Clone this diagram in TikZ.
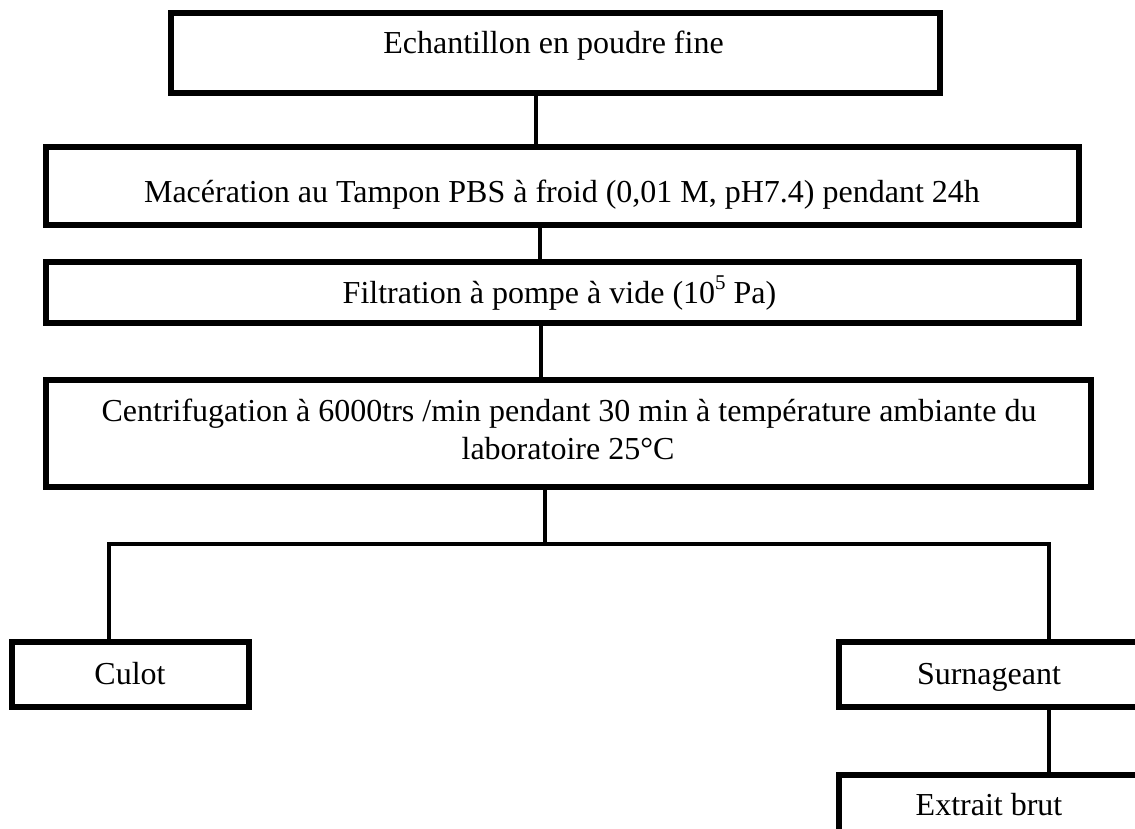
\documentclass[tikz,border=0pt]{standalone}
\usepackage{fontspec}
\setmainfont{Liberation Serif}
\begin{document}
\begin{tikzpicture}[x=1pt,y=-1pt,
  box/.style={draw, line width=5.3pt, line join=miter, inner sep=0pt},
  txt/.style={font=\fontsize{32}{38}\selectfont, inner sep=0pt, anchor=base, align=center},
  link/.style={line width=4.8pt, line join=miter}]
\useasboundingbox (0,0) rectangle (1135,828);
% boxes
\node[box, minimum width=769pt, minimum height=80pt] (b1) at (555.5,53) {};
\node[box, minimum width=1033pt, minimum height=78pt] (b2) at (562.5,186) {};
\node[box, minimum width=1033pt, minimum height=61pt] (b3) at (562.5,292.5) {};
\node[box, minimum width=1045pt, minimum height=107pt] (b4) at (568.5,433.5) {};
\node[box, minimum width=237pt, minimum height=65pt] (culot) at (130.5,674.5) {};
\node[box, minimum width=300pt, minimum height=65pt] (surn) at (989,674.5) {};
\node[box, minimum width=300pt, minimum height=66pt] (extr) at (989,808) {};
% texts
\node[txt] (t1) at (553.5,53) {Echantillon en poudre fine};
\node[txt] (t2) at (562,202) {Macération au Tampon PBS à froid (0,01 M, pH7.4) pendant 24h};
\node[txt] (t3) at (559.5,303) {Filtration à pompe à vide (10\raisebox{0.42em}{\fontsize{21}{21}\selectfont 5} Pa)};
\node[txt] (t4a) at (569,421) {Centrifugation à 6000trs /min pendant 30 min à température ambiante du};
\node[txt] (t4b) at (568,459) {laboratoire 25°C};
\node[txt] (t5) at (130,684) {Culot};
\node[txt] (t6) at (989,684) {Surnageant};
\node[txt] (t7) at (989,815) {Extrait brut};
% connectors
\coordinate (jn) at (545,544);
\coordinate (jl) at (109,544);
\coordinate (jr) at (1049,544);
\draw[link] ([xshift=-19.5pt]b1.south) -- ([xshift=-19.5pt]b1.south |- b2.north);
\draw[link] ([xshift=-22.5pt]b2.south) -- ([xshift=-22.5pt]b2.south |- b3.north);
\draw[link] ([xshift=-21.5pt]b3.south) -- ([xshift=-21.5pt]b3.south |- b4.north);
\draw[link] ([xshift=-23.5pt]b4.south) -- (jn);
\draw[link] (jl |- culot.north) -- (jl) -- (jr) -- (jr |- surn.north);
\draw[link] (jr |- surn.south) -- (jr |- extr.north);
\end{tikzpicture}
\end{document}
